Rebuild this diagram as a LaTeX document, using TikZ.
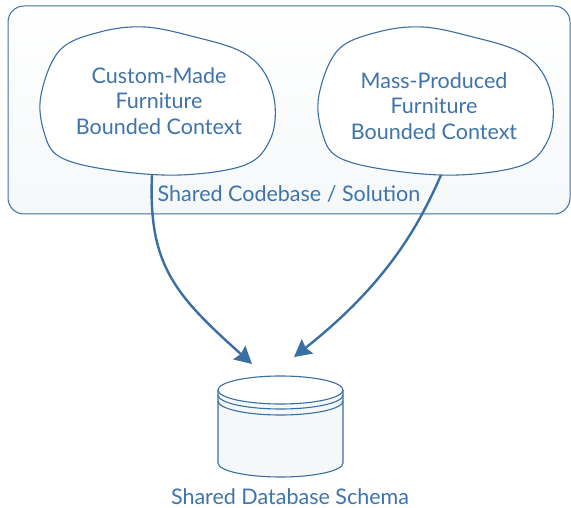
\documentclass[tikz,border=0pt]{standalone}
\usepackage{fontspec}
\setmainfont{Lato}
\usetikzlibrary{arrows.meta}
\definecolor{ln}{HTML}{3A6FA3}
\definecolor{tx}{HTML}{3F74AA}
\definecolor{cylf}{HTML}{F5F8F9}
\tikzset{
  cloudline/.style={draw=ln, line width=1.1pt, fill=white},
  lbl/.style={text=tx, font=\fontsize{21.5}{25.5}\selectfont, align=center},
  conn/.style={draw=ln, line width=2.4pt, -{Stealth[length=17pt,width=18pt,inset=2pt]}},
}
\begin{document}
\begin{tikzpicture}[x=1pt,y=-1pt]
\useasboundingbox (0,0) rectangle (571,508);
% outer codebase box
\draw[draw=ln, line width=1pt, rounded corners=16pt, top color=white, bottom color=cylf] (8,6) rectangle (570,214);
% clouds
\foreach \dx/\nm in {0/L, 278/R}{
  \begin{scope}[xshift=\dx pt]
  \draw[cloudline] plot[smooth cycle, tension=0.6] coordinates {
    (60,50) (100,32) (145,27) (195,37) (240,51) (264,72) (275,105) (270,140) (245,165) (180,175) (110,170) (60,157) (44,132) (41,95)};
  \end{scope}
}
\node[lbl] (ctxL) at (159,101) {Custom-Made\\Furniture\\Bounded Context};
\node[lbl] (ctxR) at (434,106) {Mass-Produced\\Furniture\\Bounded Context};
\node[lbl] (code) at (289,194) {Shared Codebase / Solution};
\coordinate (srcL) at (152,175);
\coordinate (srcR) at (441,175);
% cylinder
\def\cx{280.5}\def\rx{62.5}\def\ry{14}
\fill[cylf] (\cx-\rx,390) -- (\cx-\rx,463) arc[start angle=180,end angle=360,x radius=\rx,y radius=-\ry] -- (\cx+\rx,390) -- cycle;
\draw[ln, line width=1.1pt] (\cx-\rx,390) -- (\cx-\rx,463) arc[start angle=180,end angle=360,x radius=\rx,y radius=-\ry] -- (\cx+\rx,390);
\draw[ln, line width=1.1pt, fill=white] (\cx,390) ellipse[x radius=\rx, y radius=\ry];
\draw[ln, line width=1.1pt] (\cx-\rx,395) arc[start angle=180,end angle=360,x radius=\rx,y radius=-\ry];
\draw[ln, line width=1.1pt] (\cx-\rx,401) arc[start angle=180,end angle=360,x radius=\rx,y radius=-\ry];
\node (db) at (\cx,426) {};
\coordinate (dbL) at (252,364);
\coordinate (dbR) at (294,357);
\node[lbl] (dbl) at (290,497) {Shared Database Schema};
% connectors
\draw[conn] (srcL) .. controls (148,265) and (175,295) .. (dbL);
\draw[conn] (srcR) .. controls (418,228) and (385,285) .. (dbR);
\end{tikzpicture}
\end{document}
